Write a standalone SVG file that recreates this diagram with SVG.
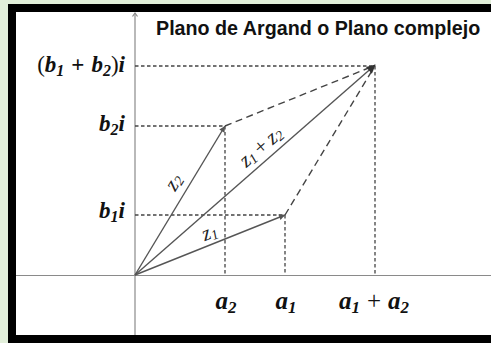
<svg xmlns="http://www.w3.org/2000/svg" width="491" height="343" viewBox="0 0 491 343">
  <defs>
    <marker id="ah" viewBox="0 0 10 10" refX="10" refY="5" markerWidth="8" markerHeight="6" markerUnits="userSpaceOnUse" orient="auto">
      <path d="M0,0 L10,5 L0,10 Z" fill="#555"/>
    </marker>
    <marker id="ahBig" viewBox="0 0 10 10" refX="9" refY="5" markerWidth="11" markerHeight="9" markerUnits="userSpaceOnUse" orient="auto">
      <path d="M0,0 L10,5 L0,10 Z" fill="#333"/>
    </marker>
    <style>
      .axis{stroke:#8a8a8a;stroke-width:1.2;fill:none}
      .vec{stroke:#555;stroke-width:1.4;fill:none}
      .proj{stroke:#444;stroke-width:1.3;stroke-dasharray:3.5 2.5;fill:none}
      .par{stroke:#444;stroke-width:1.4;stroke-dasharray:7 4.5;fill:none}
      .math{font-family:"Liberation Serif","Times New Roman",serif;font-style:italic;font-weight:bold;fill:#111}
      .lbl{font-family:"Liberation Serif","Times New Roman",serif;font-style:italic;fill:#222;font-size:21px}
      .title{font-family:"Liberation Sans",Arial,sans-serif;font-weight:bold;font-size:19.7px;fill:#111}
    </style>
  </defs>
  <rect x="0" y="0" width="491" height="343" fill="#e2efda"/>
  <rect x="8" y="4" width="483" height="339" fill="#000"/>
  <rect x="16" y="12" width="475" height="323" fill="#fff"/>

  <g id="axes">
    <line class="axis" x1="16" y1="275.5" x2="491" y2="275.5"/>
    <line class="axis" x1="135" y1="13" x2="135" y2="335"/>
    <path class="axis" d="M132.5,16.5 L135,13 L137.5,16.5"/>
  </g>

  <text id="title" class="title" x="156" y="35">Plano de Argand o Plano complejo</text>

  <g id="connectors">
    <path class="proj" d="M135,66 H375 V275"/>
    <path class="proj" d="M135,126 H225 V275"/>
    <path class="proj" d="M135,215 H285 V275"/>
    <line class="par" x1="225" y1="126" x2="371" y2="67"/>
    <line class="par" x1="285" y1="215" x2="373" y2="69"/>
    <line class="vec" x1="135" y1="275" x2="225" y2="126" marker-end="url(#ah)"/>
    <line class="vec" x1="135" y1="275" x2="285" y2="215" marker-end="url(#ah)"/>
    <line class="vec" x1="135" y1="275" x2="375" y2="65" marker-end="url(#ahBig)"/>
  </g>

  <g id="vector-labels">
    <text class="lbl" transform="translate(175,183) rotate(-59)" text-anchor="middle" dominant-baseline="middle">z<tspan font-size="14" dy="4">2</tspan></text>
    <text class="lbl" transform="translate(210,234) rotate(-22)" text-anchor="middle" dominant-baseline="middle">z<tspan font-size="14" dy="4">1</tspan></text>
    <text class="lbl" transform="translate(262,148) rotate(-41)" text-anchor="middle" dominant-baseline="middle">z<tspan font-size="14" dy="4">1</tspan><tspan dy="-4" dx="4" font-style="normal">+</tspan><tspan dx="4">z</tspan><tspan font-size="14" dy="4">2</tspan></text>
  </g>

  <g id="y-labels" class="math" font-size="23">
    <text x="125" y="72" text-anchor="end"><tspan font-style="normal" font-weight="normal">(</tspan>b<tspan font-size="16" dy="4">1</tspan><tspan dy="-4" dx="7" font-style="normal">+</tspan><tspan dx="7">b</tspan><tspan font-size="16" dy="4">2</tspan><tspan dy="-4" font-style="normal" font-weight="normal">)</tspan>i</text>
    <text x="125" y="131" text-anchor="end">b<tspan font-size="16" dy="4">2</tspan><tspan dy="-4">i</tspan></text>
    <text x="125" y="218" text-anchor="end">b<tspan font-size="16" dy="4">1</tspan><tspan dy="-4">i</tspan></text>
  </g>

  <g id="x-labels" class="math" font-size="25">
    <text x="226" y="309" text-anchor="middle">a<tspan font-size="17" dy="4">2</tspan></text>
    <text x="286" y="309" text-anchor="middle">a<tspan font-size="17" dy="4">1</tspan></text>
    <text x="374" y="309" text-anchor="middle">a<tspan font-size="17" dy="4">1</tspan><tspan dy="-4" dx="7" font-style="normal" font-weight="normal">+</tspan><tspan dx="7">a</tspan><tspan font-size="17" dy="4">2</tspan></text>
  </g>
</svg>
